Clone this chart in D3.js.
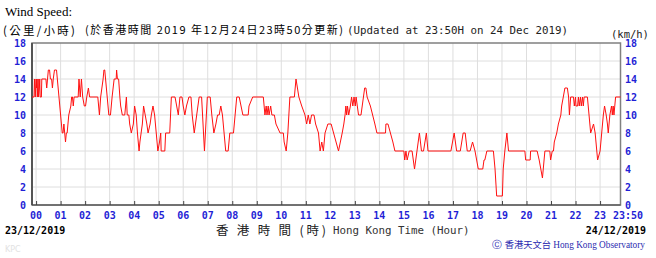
<!DOCTYPE html>
<html>
<head>
<meta charset="utf-8">
<script src="https://cdn.jsdelivr.net/npm/d3@7"></script>
<style>
  body { margin: 0; background: #fff; }
  svg { display: block; }
  .mono { font-family: "DejaVu Sans Mono", monospace; }
  .tick-lab { font-family: "DejaVu Sans Mono", monospace; font-weight: bold; font-size: 10px; fill: #1f1fd6; }
</style>
</head>
<body>
<svg id="chart"></svg>
<script>
// minutes after 00:00 on 24/12/2019 (start -10 = 23:50 the day before) and 10-min mean wind speed (km/h)
const minutes = [-10,-5,-4,-2,0,1,2,3,5,6,8,9,10,13,14,24,26,28,30,33,35,38,40,42,45,50,52,56,60,62,64,66,68,70,72,74,76,80,85,87,89,91,93,103,105,108,111,114,118,121,124,128,131,151,155,158,164,166,168,170,174,178,182,186,191,196,197,199,202,205,207,211,217,221,223,227,229,233,238,241,245,248,252,254,257,260,263,267,271,274,279,282,286,290,294,298,302,305,306,315,317,327,331,340,344,348,352,357,360,364,368,374,379,382,387,390,393,399,405,412,419,426,430,435,440,444,448,452,456,460,464,470,474,483,491,497,506,519,521,530,556,560,563,565,568,570,574,577,583,587,597,605,607,612,616,621,632,636,643,650,658,662,666,670,674,680,684,691,695,699,703,707,714,722,728,740,749,753,756,758,760,762,765,769,772,775,778,781,783,786,789,795,801,804,807,810,818,829,834,855,856,861,867,873,878,900,902,905,908,913,920,923,926,929,932,938,943,948,955,959,1015,1023,1029,1038,1045,1050,1055,1062,1068,1074,1078,1082,1093,1096,1098,1103,1119,1123,1127,1141,1143,1147,1152,1156,1196,1198,1209,1210,1226,1231,1235,1239,1245,1257,1259,1263,1266,1268,1274,1278,1284,1286,1290,1294,1300,1303,1305,1308,1315,1317,1320,1321,1325,1327,1329,1332,1334,1337,1339,1341,1349,1353,1357,1364,1368,1370,1374,1380,1384,1388,1391,1395,1398,1400,1404,1408,1410,1412,1414,1416,1418,1430];
const speeds = [12,12,14,12,14,13,14,12,14,12,13,14,12,12,14,14,13,14,15,15,14,14,13,14,15,15,14,12,10,9,8,8,9,8,7,8,8,10,11,12,12,11,12,12,14,12,14,12,11,11,12,13,12,12,10,12,14,15,15,14,12,10,10,12,14,14,15,14,14,12,11,10,10,12,10,10,9,8,9,11,10,8,6,7,8,9,11,10,9,8,9,10,11,10,8,6,7,8,6,6,8,8,12,12,11,10,12,12,11,10,11,12,12,10,8,9,10,12,12,6,12,12,10,8,9,10,10,11,10,8,6,6,8,8,12,12,10,10,11,12,12,10,11,10,11,10,11,10,10,9,8,8,7,6,8,12,12,14,12,11,10,9,10,9,10,10,9,8,6,7,6,8,9,9,8,6,8,9,10,11,10,11,10,11,12,11,12,11,12,11,10,10,12,13,13,12,11,9,8,8,9,9,8,7,6,6,5,6,5,6,6,5,4,5,6,8,6,6,8,6,6,8,6,6,8,8,6,6,7,6,5,4,4,5,5,6,6,4,1,1,4,6,8,6,6,5,5,6,6,5,4,3,6,6,5,6,6,7,8,9,10,11,12,13,13,12,10,12,12,11,12,11,11,12,11,12,11,12,11,12,12,10,8,9,8,7,5,6,8,10,11,10,9,8,10,11,10,11,10,11,12,12];

const hourTicks = d3.range(0, 24);
const hourLabels = hourTicks.map(h => String(h).padStart(2, "0"));
const speedTicks = d3.range(0, 19, 2);

const width = 656, height = 258;
const plot = { left: 32, right: 620.5, top: 43, bottom: 205 };

const svg = d3.select("#chart").attr("width", width).attr("height", height);

const x = d3.scaleLinear().domain([-10, 1430]).range([plot.left, plot.right]);
const y = d3.scaleLinear().domain([0, 18]).range([plot.bottom, plot.top]);

// grid
svg.append("g")
    .selectAll("line")
    .data(hourTicks)
    .join("line")
    .attr("x1", d => x(d * 60)).attr("x2", d => x(d * 60))
    .attr("y1", plot.top).attr("y2", plot.bottom)
    .attr("stroke", "#dedede").attr("stroke-width", 1);

svg.append("g")
    .selectAll("line")
    .data(speedTicks.slice(1, -1))
    .join("line")
    .attr("x1", plot.left).attr("x2", plot.right)
    .attr("y1", d => y(d)).attr("y2", d => y(d))
    .attr("stroke", "#dedede").attr("stroke-width", 1);

// frame
svg.append("rect")
    .attr("x", plot.left).attr("y", plot.top)
    .attr("width", plot.right - plot.left).attr("height", plot.bottom - plot.top)
    .attr("fill", "none").attr("stroke", "#808080").attr("stroke-width", 1.5);
svg.append("line")
    .attr("x1", plot.left).attr("x2", plot.left)
    .attr("y1", plot.top).attr("y2", plot.bottom)
    .attr("stroke", "#555").attr("stroke-width", 2);
svg.append("line")
    .attr("x1", plot.left).attr("x2", plot.right)
    .attr("y1", plot.bottom).attr("y2", plot.bottom)
    .attr("stroke", "#444").attr("stroke-width", 1.2);

// x ticks (inside, pointing up)
const xAxis = svg.append("g").attr("transform", `translate(0, ${plot.bottom})`)
    .call(d3.axisBottom(x).tickValues(hourTicks.map(h => h * 60)).tickSize(-4).tickFormat(""));
xAxis.select(".domain").remove();
xAxis.selectAll("line").attr("stroke", "#444");

// wind line
const line = d3.line()
    .x((d, i) => x(minutes[i]))
    .y(d => y(d));

svg.append("path")
    .datum(speeds)
    .attr("fill", "none")
    .attr("stroke", "#ff1010")
    .attr("stroke-width", 1)
    .attr("d", line);

// y tick labels, both sides
svg.append("g").selectAll("text")
    .data(speedTicks)
    .join("text")
    .attr("class", "tick-lab")
    .attr("x", 26).attr("y", d => y(d) + 3.5)
    .attr("text-anchor", "end")
    .text(d => d);

svg.append("g").selectAll("text")
    .data(speedTicks)
    .join("text")
    .attr("class", "tick-lab")
    .attr("x", 625).attr("y", d => y(d) + 3.5)
    .text(d => d);

// x tick labels
svg.append("g").selectAll("text")
    .data(hourTicks)
    .join("text")
    .attr("class", "tick-lab")
    .attr("x", d => x(d * 60)).attr("y", 219)
    .attr("text-anchor", "middle")
    .text((d, i) => hourLabels[i]);

svg.append("text")
    .attr("class", "tick-lab")
    .attr("x", 628).attr("y", 219)
    .attr("text-anchor", "middle")
    .text("23:50");

// titles
svg.append("text")
    .attr("x", 5).attr("y", 16)
    .style("font-family", "'Liberation Serif', serif").style("font-size", "13px")
    .text("Wind Speed:");

svg.append("text")
    .attr("x", 3).attr("y", 35)
    .attr("textLength", 72).attr("lengthAdjust", "spacing")
    .style("font-family", "'Noto Sans CJK TC', sans-serif").style("font-size", "11.5px")
    .text("(公里/小時)");

svg.append("text")
    .attr("x", 85).attr("y", 34)
    .attr("textLength", 258).attr("lengthAdjust", "spacing")
    .style("font-family", "'Noto Sans CJK TC', sans-serif").style("font-size", "11px")
    .text("(於香港時間 2019 年12月24日23時50分更新)");

svg.append("text")
    .attr("class", "mono")
    .attr("x", 347).attr("y", 34)
    .style("font-size", "10.8px").attr("fill", "#222")
    .text("(Updated at 23:50H on 24 Dec 2019)");

svg.append("text")
    .attr("class", "mono")
    .attr("x", 611).attr("y", 38)
    .style("font-size", "10.5px").attr("fill", "#222")
    .text("(km/h)");

// bottom texts
svg.append("text")
    .attr("class", "mono")
    .attr("x", 5).attr("y", 234)
    .style("font-size", "10px").style("font-weight", "bold")
    .text("23/12/2019");

svg.append("text")
    .attr("class", "mono")
    .attr("x", 646).attr("y", 234)
    .attr("text-anchor", "end")
    .style("font-size", "10px").style("font-weight", "bold")
    .text("24/12/2019");

svg.append("text")
    .attr("x", 216).attr("y", 235)
    .attr("textLength", 110).attr("lengthAdjust", "spacing")
    .style("font-family", "'Noto Sans CJK TC', serif").style("font-size", "12.5px")
    .attr("fill", "#222")
    .text("香 港 時 間 (時)");

svg.append("text")
    .attr("class", "mono")
    .attr("x", 333).attr("y", 234)
    .style("font-size", "10.8px").attr("fill", "#333")
    .text("Hong Kong Time (Hour)");

const credit = svg.append("text")
    .attr("x", 492).attr("y", 248)
    .attr("textLength", 153).attr("lengthAdjust", "spacingAndGlyphs")
    .attr("fill", "#2b2bb0")
    .style("font-size", "9.5px");
credit.append("tspan").style("font-family", "'DejaVu Sans', sans-serif").text("\u24b8 ");
credit.append("tspan").style("font-family", "'Noto Sans CJK TC', sans-serif").text("香港天文台 ");
credit.append("tspan").style("font-family", "'Liberation Serif', serif").text("Hong Kong Observatory");

svg.append("text")
    .attr("x", 5).attr("y", 252)
    .style("font-family", "'DejaVu Sans', sans-serif").style("font-size", "8px")
    .attr("fill", "#e2e2e2")
    .text("KPC");
</script>
</body>
</html>
